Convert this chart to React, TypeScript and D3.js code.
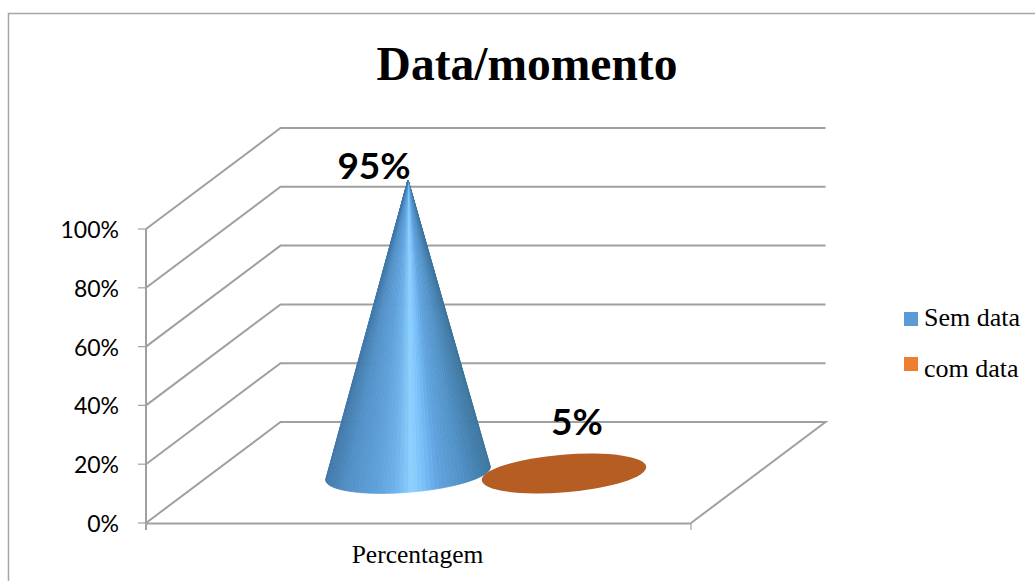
import React from "react";
import * as d3 from "d3";

const W = 1035, H = 581;
const titleText = "Data/momento";
const yTicks = [0, 20, 40, 60, 80, 100];
const categoryLabel = "Percentagem";
const seriesNames = ["Sem data", "com data"];
const seriesValues = [95, 5];
const seriesLabels = ["95%", "5%"];
const legendColors = ["#5b9bd5", "#ed7d31"];

const GRID = "#a0a0a0";
const y = d3.scaleLinear().domain([0, 100]).range([523, 229]);
const x = d3.scaleLinear().domain([0, 1]).range([146, 691]);
const depth = { dx: 134.5, dy: -101 };
// heights of the cones measured from their base
const coneH = d3.scaleLinear().domain([0, 95]).range([0, 293.5]);
const baseX = d3.scaleBand<number>().domain([0, 1]).range([252, 720]).padding(0);
const baseY = 473.5;
const A = 82.5, B = 18.8, ROT = (-4.7 * Math.PI) / 180;

const ept = (t: number): [number, number] => {
  const px = A * Math.cos(t), py = B * Math.sin(t);
  return [px * Math.cos(ROT) - py * Math.sin(ROT), px * Math.sin(ROT) + py * Math.cos(ROT)];
};

const shade = d3
  .scaleLinear<string>()
  .domain([0, 0.12, 0.3, 0.42, 0.52, 0.6, 0.68, 0.85, 1])
  .range(["#4279aa", "#5290c6", "#5fa1da", "#6eb2ea", "#8ed2ff", "#78bef8", "#62a5e0", "#4f8ec2", "#3c759d"])
  .interpolate(d3.interpolateRgb);

function Cone({ cx, h }: { cx: number; h: number }) {
  const apex: [number, number] = [cx, baseY - h];
  // tangent parameters, computed in the ellipse's local unit-circle space
  const dxw = apex[0] - cx, dyw = apex[1] - baseY;
  const lx = (dxw * Math.cos(-ROT) - dyw * Math.sin(-ROT)) / A;
  const ly = (dxw * Math.sin(-ROT) + dyw * Math.cos(-ROT)) / B;
  const ang = Math.atan2(ly, lx);
  const off = Math.acos(1 / Math.hypot(lx, ly));
  const tRight = ang + off;
  const tLeft = ang - off + 2 * Math.PI;
  const n = 60;
  const pts = d3.range(0, n + 1).map((i) => {
    const t = tRight + ((tLeft - tRight) * i) / n;
    const p = ept(t);
    return [cx + p[0], baseY + p[1]] as [number, number];
  });
  const xExt = d3.extent(pts, (p) => p[0]) as [number, number];
  const u = d3.scaleLinear().domain(xExt).range([0, 1]);
  return (
    <g>
      {pts.slice(1).map((p, i) => {
        const q = pts[i];
        const c = shade(u((p[0] + q[0]) / 2));
        return (
          <path
            key={i}
            d={`M${apex[0]},${apex[1]}L${q[0]},${q[1]}L${p[0]},${p[1]}Z`}
            fill={c}
            stroke={c}
            strokeWidth={0.7}
            strokeLinejoin="round"
          />
        );
      })}
    </g>
  );
}

export default function App() {
  const serif = "'Liberation Serif', serif";
  const sans = "Lato, sans-serif";
  const x0 = x(0), x1 = x(1);
  const flatCx = baseX(1)! + 78;
  return (
    <svg
      width={W}
      height={H}
      viewBox={`0 0 ${W} ${H}`}
      style={{ position: "absolute", left: 0, top: 0, background: "#fff" }}
    >
      <path d={`M8.5,${H}V13.5H${W}`} fill="none" stroke="#a6a6a6" strokeWidth={1.5} />
      <text x={527} y={79.5} textAnchor="middle" fontFamily={serif} fontWeight="bold" fontSize={47.5} fill="#000">
        {titleText}
      </text>

      {yTicks.map((t) => (
        <g key={t} fill="none" stroke={GRID} strokeWidth={2}>
          {t > 0 && (
            <path d={`M${x0},${y(t)}L${x0 + depth.dx},${y(t) + depth.dy}H${x1 + depth.dx}`} />
          )}
          <path d={`M138,${y(t)}H${x0}`} strokeWidth={1.2} />
        </g>
      ))}
      <path
        d={`M${x0},${y(0)}L${x0 + depth.dx},${y(0) + depth.dy}H${x1 + depth.dx}L${x1},${y(0)}`}
        fill="none"
        stroke={GRID}
        strokeWidth={2}
      />
      <path d={`M${x0},${y(100)}V530`} fill="none" stroke={GRID} strokeWidth={2} />
      <path d={`M${x0},${y(0) + 0.5}H${x1}`} fill="none" stroke={GRID} strokeWidth={2} />
      <path d={`M${x1},${y(0)}V530`} fill="none" stroke={GRID} strokeWidth={1.2} />

      {yTicks.map((t) => (
        <text key={t} x={119} y={y(t) + 9} textAnchor="end" fontFamily={sans} fontSize={23} fill="#000">
          {t}%
        </text>
      ))}
      <text x={417.5} y={563} textAnchor="middle" fontFamily={serif} fontSize={25.5} fill="#000">
        {categoryLabel}
      </text>

      <ellipse
        cx={flatCx}
        cy={baseY}
        rx={A}
        ry={B}
        transform={`rotate(-4.7 ${flatCx} ${baseY})`}
        fill="#b55d22"
      />
      <Cone cx={408} h={coneH(seriesValues[0])} />

      <text x={374} y={179} textAnchor="middle" fontFamily={sans} fontWeight="bold" fontSize={37} fill="#000">
        {seriesLabels[0]}
      </text>
      <text x={577} y={435} textAnchor="middle" fontFamily={sans} fontWeight="bold" fontSize={37} fill="#000">
        {seriesLabels[1]}
      </text>

      {seriesNames.map((n, i) => (
        <g key={n}>
          <rect x={904} y={312 + i * 45} width={14} height={14} fill={legendColors[i]} />
          <text x={924} y={326 + i * 51} fontFamily={serif} fontSize={26} fill="#000">
            {n}
          </text>
        </g>
      ))}
    </svg>
  );
}
